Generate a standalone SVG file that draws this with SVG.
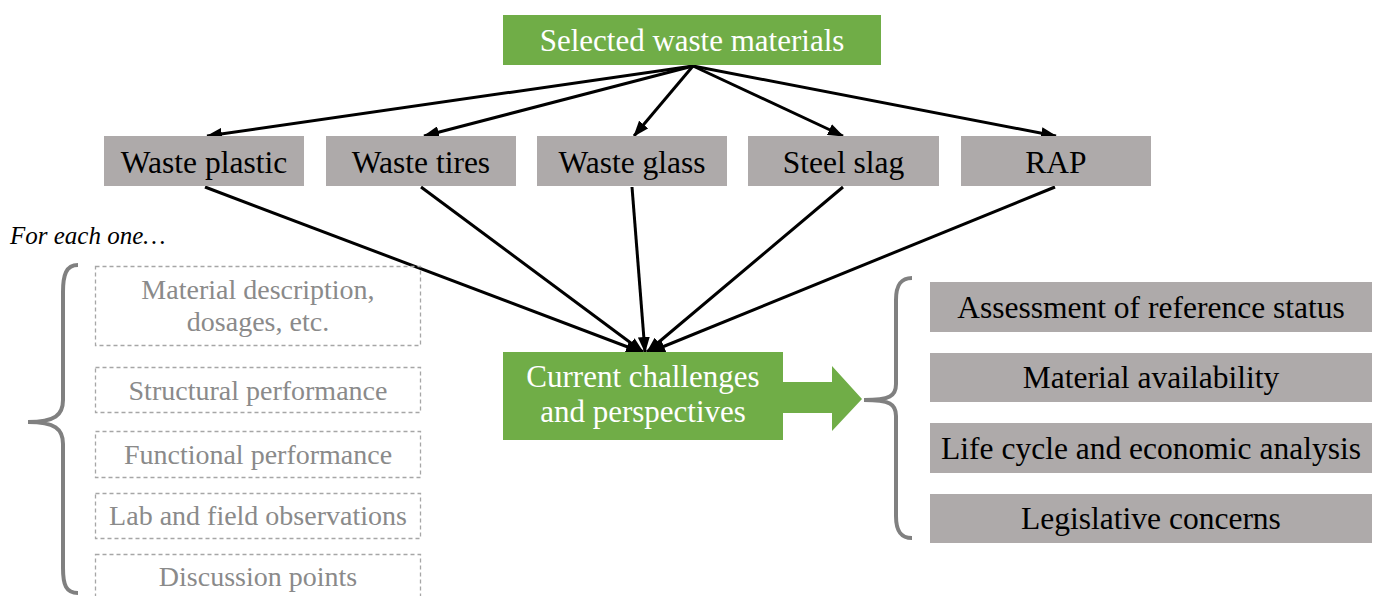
<svg xmlns="http://www.w3.org/2000/svg" width="1379" height="596" viewBox="0 0 1379 596">
<defs>
<style>
.t{font-family:"Liberation Serif","Times New Roman",serif;text-anchor:middle}
.green rect{fill:#70ad47}
.green text{fill:#ffffff;font-size:31px}
.gray rect{fill:#aeaaaa}
.gray text{fill:#000000;font-size:31.5px}
.dash rect{fill:none;stroke:#a6a6a6;stroke-width:1.3;stroke-dasharray:4 3}
.dash text{fill:#8a8a8a;font-size:28px}
.edge{stroke:#000;stroke-width:3;fill:none;marker-end:url(#ah)}
.brace{stroke:#808080;stroke-width:4;fill:none}
</style>
<marker id="ah" markerUnits="userSpaceOnUse" markerWidth="16" markerHeight="12" refX="15" refY="6" orient="auto" viewBox="0 0 16 12">
<path d="M0,0 L16,6 L0,12 z" fill="#000"/>
</marker>
</defs>
<rect width="1379" height="596" fill="#ffffff"/>

<g id="connectors">
<line class="edge" x1="693" y1="66" x2="207" y2="136"/>
<line class="edge" x1="693" y1="66" x2="424" y2="136"/>
<line class="edge" x1="693" y1="66" x2="634" y2="136"/>
<line class="edge" x1="693" y1="66" x2="843" y2="136"/>
<line class="edge" x1="693" y1="66" x2="1056" y2="136"/>
<line class="edge" x1="205" y1="187" x2="641" y2="352"/>
<line class="edge" x1="421" y1="187" x2="643" y2="352"/>
<line class="edge" x1="632" y1="187" x2="645" y2="352"/>
<line class="edge" x1="843" y1="187" x2="647" y2="352"/>
<line class="edge" x1="1055" y1="187" x2="650" y2="352"/>
<path id="bigArrow" d="M783,382 L832,382 L832,366 L862,399 L832,431 L832,413 L783,413 z" fill="#70ad47"/>
</g>

<g id="n-selected" class="t green">
<rect x="503" y="15" width="378" height="50"/>
<text x="692" y="51">Selected waste materials</text>
</g>

<g id="n-plastic" class="t gray"><rect x="104" y="136" width="200" height="50"/><text x="204" y="173">Waste plastic</text></g>
<g id="n-tires" class="t gray"><rect x="326" y="136" width="190" height="50"/><text x="421" y="173">Waste tires</text></g>
<g id="n-glass" class="t gray"><rect x="537" y="136" width="190" height="50"/><text x="632" y="173">Waste glass</text></g>
<g id="n-slag" class="t gray"><rect x="748" y="136" width="191" height="50"/><text x="843.5" y="173">Steel slag</text></g>
<g id="n-rap" class="t gray"><rect x="961" y="136" width="190" height="50"/><text x="1056" y="173">RAP</text></g>

<g id="n-current" class="t green">
<rect x="503" y="352" width="280" height="88"/>
<text x="643" y="387">Current challenges</text>
<text x="643" y="422">and perspectives</text>
</g>

<g id="foreach">
<text x="10" y="244" style="font-family:'Liberation Serif','Times New Roman',serif;font-style:italic;font-size:25px;fill:#000">For each one…</text>
<path class="brace" d="M78,265 C66,265 63,275 63,292 L63,400 C63,415 55,422 28,422 C55,422 63,429 63,444 L63,568 C63,585 66,593 78,593"/>
</g>

<g id="n-desc" class="t dash"><rect x="95.5" y="266.5" width="325" height="79"/><text x="258" y="299">Material description,</text><text x="258" y="331">dosages, etc.</text></g>
<g id="n-struct" class="t dash"><rect x="95.5" y="367.5" width="325" height="45"/><text x="258" y="400">Structural performance</text></g>
<g id="n-func" class="t dash"><rect x="95.5" y="431.5" width="325" height="46"/><text x="258" y="464">Functional performance</text></g>
<g id="n-lab" class="t dash"><rect x="95.5" y="493.5" width="325" height="45"/><text x="258" y="525">Lab and field observations</text></g>
<g id="n-disc" class="t dash"><rect x="95.5" y="554.5" width="325" height="50"/><text x="258" y="586">Discussion points</text></g>

<g id="rightbrace">
<path class="brace" d="M912,278 C900,278 896,286 896,300 L896,384 C896,396 890,400 864,400 C890,400 896,404 896,416 L896,516 C896,530 900,538 912,538"/>
</g>

<g id="n-assess" class="t gray"><rect x="930" y="282" width="442" height="50"/><text x="1151" y="318">Assessment of reference status</text></g>
<g id="n-avail" class="t gray"><rect x="930" y="353" width="442" height="49"/><text x="1151" y="388">Material availability</text></g>
<g id="n-lca" class="t gray"><rect x="930" y="423" width="442" height="50"/><text x="1151" y="459">Life cycle and economic analysis</text></g>
<g id="n-legis" class="t gray"><rect x="930" y="494" width="442" height="49"/><text x="1151" y="529">Legislative concerns</text></g>
</svg>
